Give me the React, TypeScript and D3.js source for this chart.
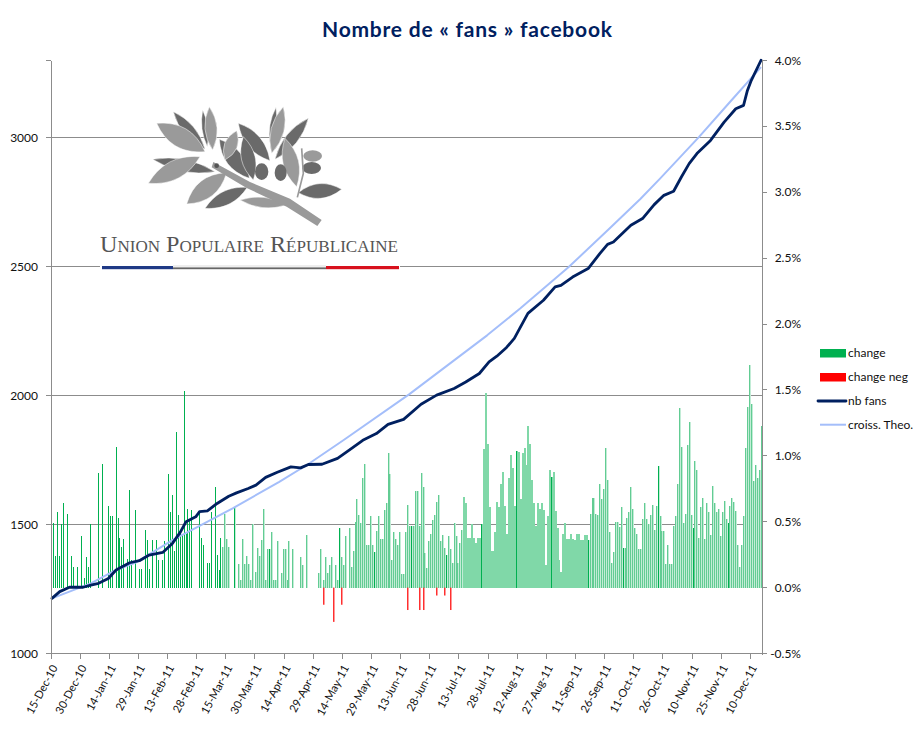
import React from "react";
import * as d3 from "d3";

const titleText = "Nombre de « fans » facebook";
const tickLabels = ["15-Dec-10","30-Dec-10","14-Jan-11","29-Jan-11","13-Feb-11","28-Feb-11","15-Mar-11","30-Mar-11","14-Apr-11","29-Apr-11","14-May-11","29-May-11","13-Jun-11","28-Jun-11","13-Jul-11","28-Jul-11","12-Aug-11","27-Aug-11","11-Sep-11","26-Sep-11","11-Oct-11","26-Oct-11","10-Nov-11","25-Nov-11","10-Dec-11"];
const leftTicks = [1000, 1500, 2000, 2500, 3000];
const gridTicks = [1500, 2000, 2500, 3000];
const rightTicks = [-0.5, 0, 0.5, 1, 1.5, 2, 2.5, 3, 3.5, 4];

// daily change in %, in reading order
const changeDec = [0,.49,.24,.57,.24,.48,.64,0,.56,0,.24,.16,0,.16,0,.39,0];
const changeJan = [.07,.23,.16,.48,0,0,0,.87,0,.94,0,0,.62,.54,.54,0,1.07,.53,.38,.31,.37,0,.22,.74,.21,0,.59,0,.14,.14,0];
const changeFeb = [.44,.36,.14,0,.36,0,.36,.21,0,.21,.35,0,.86,.57,.70,.28,1.18,.55,.41,.41,1.49,.41,.60,.52,.59,0,0,0];
const changeMar = [.58,.38,.32,0,.19,.19,.57,0,.76,.25,.13,.38,.31,.56,.37,.31,0,0,.61,0,.18,.06,.37,.18,.24,.18,.06,.48,0,.12,.30];
const changeApr = [.24,.36,.60,.06,.29,.29,.42,.06,.06,.35,0,.11,.29,.29,.06,.35,0,.29,0,0,0,.23,.17,0,.40,0,0,0,0,0];
const changeMay = [.11,.29,0,.06,.23,.11,.17,.23,0,.17,.06,.45,.23,.17,.39,0,.45,.16,.28,.50,.67,.55,.49,.83,.94,.32,.32,.54,.32,.27,.43];
const changeJun = [.54,.37,.37,.59,.64,1.02,.86,.21,.42,.37,.32,.42,.10,.10,.42,.63,.47,.47,.47,.73,.73,.47,.87,.76,.26,.15,.35,.41,.51,.55];
const changeJul = [.65,.70,.35,.40,.30,.25,.39,.29,.19,.49,.39,.19,.34,.44,.69,.64,.38,.38,.48,.38,.34,.38,.38,.48,1.05,1.48,1.09,.61,.28,.28,.42];
const changeAug = [.65,.61,.79,.88,.62,.41,.83,1.01,.91,.62,1.04,1.03,.67,1.02,1.06,.93,1.23,1.09,.82,.64,.47,.64,.60,.64,.59,.17,.54,.89,.84,.88,.58];
const changeSep = [.45,.21,.12,.41,.49,.37,.37,.41,.37,.36,.41,.41,.36,.36,.40,.40,.36,.56,.68,.68,.56,.55,.79,.67,.75,1.06,.82,.42,.19,.27];
const changeOct = [.50,.50,.46,.61,.30,.30,.53,.57,.76,.60,.45,.41,.29,.29,.52,.64,.52,.48,.55,.63,.44,.62,.92,.54,.43,.43,.18,.32,.18,.18,.47];
const changeNov = [.54,.79,1.36,1.07,.49,.56,1.08,1.26,.55,.45,.96,.89,.38,.61,.68,.37,.64,.57,.40,.77,.64,.57,.60,.39,.57,.66,.52,.49,.62,.68];
const changeDecEnd = [.65,.58,.32,.16,.32,.54,1.06,1.37,1.69,1.39,.81,.93,.83,.89,1.23];
const change = [...changeDec,...changeJan,...changeFeb,...changeMar,...changeApr,...changeMay,...changeJun,...changeJul,...changeAug,...changeSep,...changeOct,...changeNov,...changeDecEnd];

const negDays = [140,145,149,183,189,191,198,202,205];
const negValues = [-.13,-.26,-.13,-.17,-.17,-.17,-.06,-.06,-.17];

const fansDays = [0,4,9,16,20,24,29,33,40,45,50,57,62,66,69,74,76,80,85,91,95,101,105,110,116,123,128,132,139,147,153,160,167,173,181,190,198,207,213,220,225,229,234,238,241,245,253,259,262,268,276,282,286,289,298,304,310,315,320,324,328,332,339,346,352,356,358,360,365];
const fansValues = [1214,1240,1257,1257,1265,1272,1291,1324,1352,1360,1382,1392,1427,1470,1511,1530,1550,1553,1582,1610,1623,1640,1653,1683,1703,1724,1720,1733,1734,1757,1789,1827,1853,1889,1908,1967,2002,2028,2053,2086,2131,2153,2187,2222,2264,2319,2370,2422,2428,2460,2493,2551,2587,2596,2661,2687,2741,2777,2793,2848,2900,2939,2990,3061,3113,3126,3184,3223,3301];

const theoDays = [0,20,33,44,62,75,93,117,132,150,184,224,241,266,287,303,313,333,349,365];
const theoValues = [1214,1272,1324,1356,1440,1491,1563,1666,1735,1827,2006,2234,2338,2499,2648,2764,2842,3003,3139,3274];

const legendNames = ["change", "change neg", "nb fans", "croiss. Theo."];

// logo leaves: tip x, tip y, base x, base y, width, shade (in logo units)
const leaves: [number, number, number, number, number, string][] = [
  [188,178,375,215,28,"#6a6a6a"],[250,35,345,148,26,"#6a6a6a"],[338,30,352,140,14,"#6a6a6a"],
  [388,118,478,235,38,"#6a6a6a"],[445,70,540,182,34,"#6a6a6a"],[460,110,490,240,32,"#6a6a6a"],
  [558,22,540,130,14,"#6a6a6a"],[655,55,555,178,28,"#6a6a6a"],[345,325,472,262,32,"#6a6a6a"],
  [755,268,625,278,34,"#6a6a6a"],[200,70,345,155,46,"#9a9a9a"],[358,20,368,150,28,"#9a9a9a"],
  [440,92,405,180,30,"#9a9a9a"],[580,20,545,160,30,"#9a9a9a"],[585,115,620,260,36,"#9a9a9a"],
  [175,250,330,170,42,"#9a9a9a"],[290,312,410,218,42,"#9a9a9a"],[450,300,590,315,24,"#9a9a9a"],
];
const olives: [number, number, number, number, string][] = [
  [668,168,28,17,"#9a9a9a"],[665,204,28,18,"#6a6a6a"],[515,215,20,25,"#6a6a6a"],[572,218,18,25,"#6a6a6a"],
];

const W = 922, H = 735;
const L = 51, R = 762, T = 60.5, B = 653.5;
const FONT = "Lato, Calibri, sans-serif";
const GRID = "#8c8c8c";
const AXIS = "#8c8c8c";

function leafPath([x1, y1, x2, y2, w]: (typeof leaves)[number]) {
  const mx = (x1 + x2) / 2, my = (y1 + y2) / 2;
  const dx = x2 - x1, dy = y2 - y1, len = Math.hypot(dx, dy) || 1;
  const k = 1.3;
  const nx = (-dy / len) * w * k, ny = (dx / len) * w * k;
  return `M${x1},${y1}Q${mx + nx},${my + ny} ${x2},${y2}Q${mx - nx},${my - ny} ${x1},${y1}Z`;
}

function Logo() {
  return (
    <g>
      <g transform="translate(90,100) scale(0.33333)">
        {leaves.map((l, i) => <path key={i} d={leafPath(l)} fill={l[5]} stroke="#fff" strokeWidth={1.5} />)}
        {olives.map((o, i) => <ellipse key={i} cx={o[0]} cy={o[1]} rx={o[2]} ry={o[3]} fill={o[4]} />)}
        <path d="M370,186 L480,246 L600,296 L695,360 L682,378 L590,320 L470,264 L365,202Z" fill="#9a9a9a" />
        <path d="M635,145 L640,220 L622,292" fill="none" stroke="#9a9a9a" strokeWidth={5} />
        <circle cx={380} cy={197} r={7} fill="#555" />
      </g>
      <text x={100} y={252} fontFamily="'Liberation Serif', serif" fontSize={24} fill="#555" style={{ fontVariant: "small-caps" }} textLength={298} lengthAdjust="spacingAndGlyphs">Union Populaire Républicaine</text>
      <rect x={100} y={265} width={300} height={5} fill="#fff" />
      <rect x={102} y={266} width={71} height={3.2} fill="#1f3a86" />
      <rect x={173} y={265} width={153} height={2} fill="#eeeeee" />
      <rect x={173} y={267.4} width={153} height={1.8} fill="#666" />
      <rect x={326} y={266} width={73} height={3.2} fill="#d8111d" />
    </g>
  );
}

// appearance of the daily bars, which the source renders in a few distinct textures
const solidFrom = 212, solidTo = 276, paleFrom = 88;
const isDark = (i: number) => i >= paleFrom && ((i - 166) % 18.2 + 18.2) % 18.2 < 1;

export default function App() {
  const x = d3.scaleBand<number>().domain(d3.range(change.length)).range([L, R]).padding(0);
  const yL = d3.scaleLinear().domain([1000, 3300]).range([B, T]);
  const yR = d3.scaleLinear().domain([-0.5, 4]).range([B, T]);
  const cx = (i: number) => (x(i) as number) + x.bandwidth() / 2;
  const snap = (i: number) => Math.round(cx(i) - 0.5);
  const fansPath = d3.line<number>().x(d => cx(d)).y((_, i) => yL(fansValues[i]))(fansDays) as string;
  const theoPath = d3.line<number>().x(d => cx(d)).y((_, i) => yL(theoValues[i]))(theoDays) as string;
  const fmt = (v: number) => `${v.toFixed(1)}%`;
  const idx = d3.range(change.length).filter(i => change[i] > 0);

  return (
    <svg width={W} height={H} viewBox={`0 0 ${W} ${H}`} style={{ position: "absolute", left: 0, top: 0, background: "#fff" }}>
      <text x={467} y={36.5} textAnchor="middle" fontFamily={FONT} fontWeight={700} fontSize={21} fill="#002060" textLength={290}>{titleText}</text>

      {gridTicks.map(t => <line key={t} x1={L - 5} x2={R} y1={yL(t)} y2={yL(t)} stroke={GRID} strokeWidth={1} shapeRendering="crispEdges" />)}
      <Logo />

      <g shapeRendering="crispEdges">
        {idx.filter(i => i >= paleFrom && !(i >= solidFrom && i < solidTo)).map(i => (
          <rect key={i} x={snap(i)} width={2} y={yR(change[i])} height={yR(0) - yR(change[i])} fill="#C2ECD6" />
        ))}
        {idx.filter(i => i >= solidFrom && i < solidTo).map(i => (
          <rect key={i} x={snap(i)} width={2} y={yR(change[i])} height={yR(0) - yR(change[i])} fill="#80D8A8" />
        ))}
        {idx.filter(i => i >= paleFrom && !(i >= solidFrom && i < solidTo)).map(i => (
          <rect key={i} x={snap(i)} width={1} y={yR(change[i])} height={yR(0) - yR(change[i])} fill="#62CC93" />
        ))}
        {idx.filter(i => i < paleFrom || isDark(i)).map(i => (
          <rect key={i} x={snap(i)} width={1} y={yR(change[i])} height={yR(0) - yR(change[i])} fill="#00B050" />
        ))}
      </g>
      {negDays.map((d, i) => <rect key={d} x={snap(d)} width={1.5} y={yR(0)} height={yR(negValues[i]) - yR(0)} fill="#FF3030" />)}

      <path d={theoPath} fill="none" stroke="#A4BEFA" strokeWidth={2} strokeLinejoin="round" />
      <path d={fansPath} fill="none" stroke="#002060" strokeWidth={2.8} strokeLinejoin="round" strokeLinecap="round" />

      <g shapeRendering="crispEdges" stroke={AXIS}>
        <line x1={L} x2={L} y1={T} y2={B + 5} />
        <line x1={R} x2={R} y1={T} y2={B + 1} />
        <line x1={L - 5} x2={R + 5} y1={B} y2={B} />
        <line x1={L - 5} x2={L} y1={T} y2={T} />
        {tickLabels.map((_, k) => <line key={k} x1={(x(k * 15) as number)} x2={(x(k * 15) as number)} y1={B} y2={B + 5} />)}
        {rightTicks.map(t => <line key={t} x1={R} x2={R + 5} y1={yR(t)} y2={yR(t)} />)}
      </g>

      <g fontFamily={FONT} fontSize={12} fill="#111">
        {leftTicks.map(t => <text key={t} x={38} y={yL(t) + 4} textAnchor="end">{t}</text>)}
        {rightTicks.map(t => <text key={t} x={801} y={yR(t) + 4} textAnchor="end">{fmt(t)}</text>)}
      </g>
      <g fontFamily={FONT} fontSize={11.2} fill="#111">
        {tickLabels.map((s, k) => (
          <text key={s} textAnchor="end" transform={`translate(${(x(k * 15) as number) + 7},${B + 14}) rotate(-62)`}>{s}</text>
        ))}
      </g>

      <g fontFamily={FONT} fontSize={12} fill="#111">
        <rect x={820} y={349} width={26} height={8.5} fill="#00B050" />
        <rect x={820} y={373} width={26} height={8.5} fill="#FF0000" />
        <line x1={818} x2={846} y1={401} y2={401} stroke="#002060" strokeWidth={2.8} strokeLinecap="round" />
        <line x1={820} x2={846} y1={424.7} y2={424.7} stroke="#A4BEFA" strokeWidth={2} />
        {legendNames.map((n, i) => <text key={n} x={848} y={357 + i * 24}>{n}</text>)}
      </g>
    </svg>
  );
}
